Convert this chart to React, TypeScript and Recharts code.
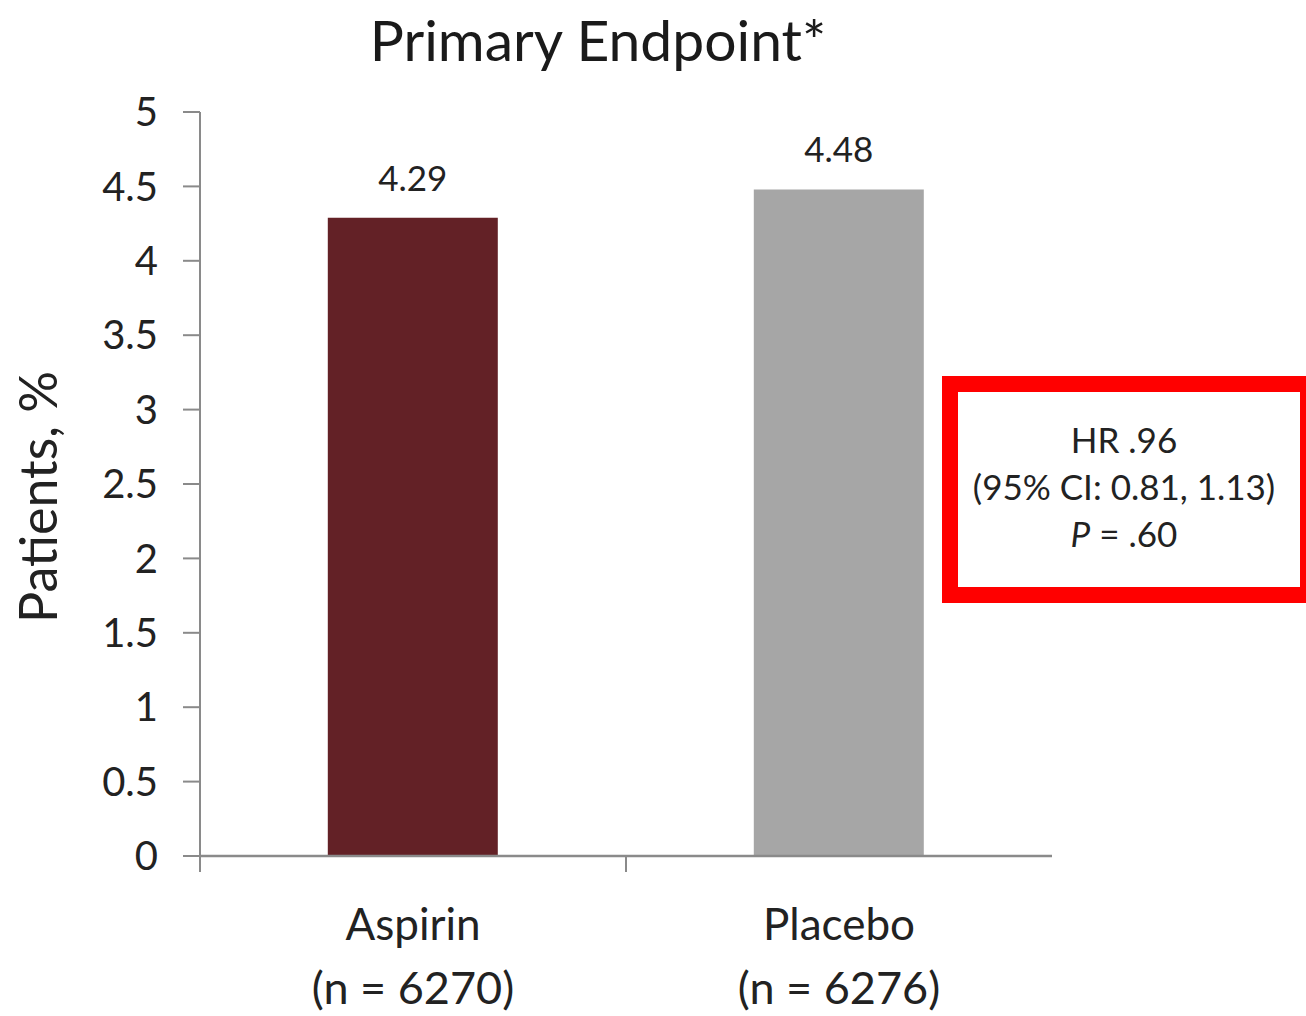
import React from 'react';
import { BarChart, Bar, XAxis, YAxis, Cell, LabelList, Label } from 'recharts';

// values
const groups = ['Aspirin', 'Placebo'];
const sampleSizes = ['(n = 6270)', '(n = 6276)'];
const patientsPct = [4.29, 4.48];
const barColors = ['#632126', '#A6A6A6'];
const yTicks = [0, 0.5, 1, 1.5, 2, 2.5, 3, 3.5, 4, 4.5, 5];
const edgeTicks = [0, 1];
const statLines = ['HR .96', '(95% CI: 0.81, 1.13)', '= .60'];

const data = groups.map((g, i) => ({ group: g, n: sampleSizes[i], value: patientsPct[i], slot: i }));

const FONT = 'Lato, "Open Sans", sans-serif';
const AXIS = '#8a8a8a';
const INK = '#222222';

const GroupTick = (props: any) => {
  const { x, y, payload, index } = props;
  return (
    <g>
      <text x={x} y={y + 76} textAnchor="middle" fontSize={44} fill={INK} fontFamily={FONT}>
        {payload.value}
      </text>
      <text x={x} y={y + 140} textAnchor="middle" fontSize={45} fill={INK} fontFamily={FONT}>
        {sampleSizes[index] ?? data[index]?.n}
      </text>
    </g>
  );
};

const NoTick = () => <g />;

export default function App() {
  return (
    <div
      style={{
        position: 'absolute',
        left: 0,
        top: 0,
        width: 1306,
        height: 1016,
        overflow: 'hidden',
        background: '#fff',
        fontFamily: FONT,
      }}
    >
      <div
        style={{
          position: 'absolute',
          left: 298,
          width: 600,
          top: 4,
          textAlign: 'center',
          fontSize: 57,
          color: '#1a1a1a',
          lineHeight: '70px',
        }}
      >
        Primary Endpoint*
      </div>

      <BarChart
        width={1306}
        height={1016}
        data={data}
        margin={{ top: 112, right: 254, bottom: 158, left: 0 }}
        barCategoryGap="30%"
      >
        <XAxis
          dataKey="group"
          axisLine={{ stroke: AXIS, strokeWidth: 2.5 }}
          tickLine={false}
          tick={<GroupTick />}
          height={1}
          interval={0}
        />
        <XAxis
          xAxisId="edges"
          type="number"
          dataKey="slot"
          domain={[0, 2]}
          allowDataOverflow
          ticks={edgeTicks}
          interval={0}
          tick={<NoTick />}
          tickSize={15}
          axisLine={false}
          tickLine={{ stroke: AXIS, strokeWidth: 2 }}
          height={1}
        />
        <YAxis
          domain={[0, 5]}
          ticks={yTicks}
          width={200}
          tickSize={17}
          tickMargin={25}
          axisLine={{ stroke: AXIS, strokeWidth: 2 }}
          tickLine={{ stroke: AXIS, strokeWidth: 2 }}
          tick={{ fontSize: 40, fill: INK, fontFamily: FONT }}
        >
          <Label
            content={({ viewBox }: any) => {
              const cy = viewBox.y + viewBox.height / 2 + 13;
              return (
                <text
                  x={57}
                  y={cy}
                  transform={`rotate(-90, 57, ${cy})`}
                  textAnchor="middle"
                  fontSize={52}
                  fill={INK}
                  fontFamily={FONT}
                >
                  Patients, %
                </text>
              );
            }}
          />
        </YAxis>
        <Bar dataKey="value" isAnimationActive={false}>
          {data.map((d, i) => (
            <Cell key={d.group} fill={barColors[i]} />
          ))}
          <LabelList
            dataKey="value"
            position="top"
            offset={27}
            style={{ fontSize: 35, fill: INK, fontFamily: FONT }}
          />
        </Bar>
      </BarChart>

      <div
        style={{
          position: 'absolute',
          left: 942,
          top: 376,
          width: 374,
          height: 227,
          border: '16px solid #ff0000',
          boxSizing: 'border-box',
        }}
      />
      <div
        style={{
          position: 'absolute',
          left: 944,
          width: 360,
          top: 416,
          textAlign: 'center',
          fontSize: 35,
          lineHeight: '47px',
          color: INK,
        }}
      >
        <div>{statLines[0]}</div>
        <div>{statLines[1]}</div>
        <div>
          <i>P</i> {statLines[2]}
        </div>
      </div>
    </div>
  );
}
